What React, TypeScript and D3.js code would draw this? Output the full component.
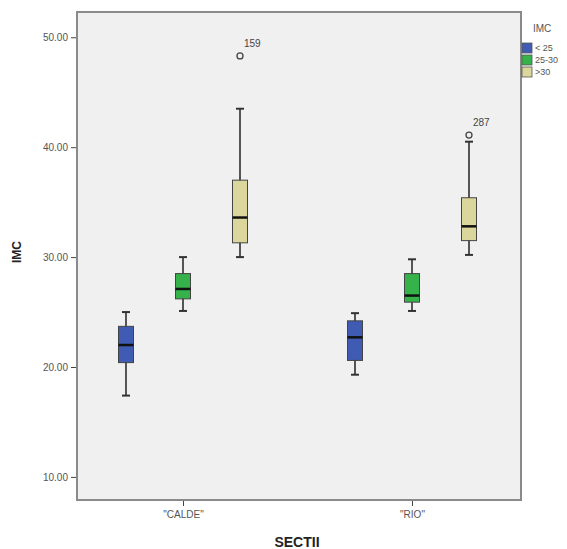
import React, { useEffect, useRef } from 'react'
import * as d3 from 'd3'

const categories = ['"CALDE"', '"RIO"']
const groups = ['< 25', '25-30', '>30']
const colors = ['#3f5bb4', '#36b24a', '#dad69c']
const yTicks = [10, 20, 30, 40, 50]

// [whiskerLow, q1, median, q3, whiskerHigh] per category, per group
const lowBmi = [[17.4, 20.4, 22.0, 23.7, 25.0], [19.3, 20.6, 22.7, 24.2, 24.9]]
const midBmi = [[25.1, 26.2, 27.1, 28.5, 30.0], [25.1, 25.9, 26.5, 28.5, 29.8]]
const highBmi = [[30.0, 31.3, 33.6, 37.0, 43.5], [30.2, 31.5, 32.8, 35.4, 40.5]]
const outliers = [
    { cat: 0, group: 2, value: 48.3, label: '159' },
    { cat: 1, group: 2, value: 41.1, label: '287' },
]

export default function App() {
    const svgRef = useRef()

    useEffect(() => {
        const width = 567
        const height = 549
        const left = 77
        const right = 521
        const top = 12
        const bottom = 500
        const font = 'Liberation Sans, Arial, sans-serif'

        const svg = d3.select(svgRef.current)
        svg.selectAll('*').remove()
        svg.attr('width', width).attr('height', height)

        const y = d3.scaleLinear().domain([7.9, 52.3]).range([bottom, top])
        const x = d3.scalePoint().domain(categories).range([183, 412])
        const offset = d3.scalePoint().domain(groups).range([-57, 57])

        svg.append('rect')
            .attr('x', left)
            .attr('y', top)
            .attr('width', right - left)
            .attr('height', bottom - top)
            .attr('fill', '#f0f0f0')
            .attr('stroke', '#8a8a8a')
            .attr('stroke-width', 2)

        const yAxis = svg.append('g')
            .attr('transform', `translate(${left - 1},0)`)
            .call(d3.axisLeft(y).tickValues(yTicks).tickSize(5).tickPadding(3).tickFormat(d3.format('.2f')))
        yAxis.select('.domain').remove()

        const xAxis = svg.append('g')
            .attr('transform', `translate(0,${bottom + 1})`)
            .call(d3.axisBottom(x).tickSize(5).tickPadding(5))
        xAxis.select('.domain').remove()

        svg.selectAll('.tick line').attr('stroke', '#444')
        svg.selectAll('.tick text')
            .attr('fill', '#555')
            .style('font-family', font)
            .style('font-size', '10px')

        const series = [lowBmi, midBmi, highBmi]
        const boxW = 15
        const capW = 8

        series.forEach((data, gi) => {
            data.forEach((s, ci) => {
                const cx = x(categories[ci]) + offset(groups[gi])
                const g = svg.append('g')
                g.append('line')
                    .attr('x1', cx).attr('x2', cx)
                    .attr('y1', y(s[0])).attr('y2', y(s[4]))
                    .attr('stroke', '#555').attr('stroke-width', 2)
                ;[s[0], s[4]].forEach((v) => {
                    g.append('line')
                        .attr('x1', cx - capW / 2).attr('x2', cx + capW / 2)
                        .attr('y1', y(v)).attr('y2', y(v))
                        .attr('stroke', '#333').attr('stroke-width', 2)
                })
                g.append('rect')
                    .attr('x', cx - boxW / 2)
                    .attr('y', y(s[3]))
                    .attr('width', boxW)
                    .attr('height', y(s[1]) - y(s[3]))
                    .attr('fill', colors[gi])
                    .attr('stroke', '#444')
                    .attr('stroke-width', 1)
                g.append('line')
                    .attr('x1', cx - boxW / 2).attr('x2', cx + boxW / 2)
                    .attr('y1', y(s[2])).attr('y2', y(s[2]))
                    .attr('stroke', '#111').attr('stroke-width', 2.5)
            })
        })

        outliers.forEach((o) => {
            const cx = x(categories[o.cat]) + offset(groups[o.group])
            svg.append('circle')
                .attr('cx', cx).attr('cy', y(o.value)).attr('r', 3)
                .attr('fill', 'none').attr('stroke', '#444').attr('stroke-width', 1.3)
            svg.append('text')
                .attr('x', cx + 4).attr('y', y(o.value) - 9)
                .attr('fill', '#444')
                .style('font-family', font)
                .style('font-size', '10px')
                .text(o.label)
        })

        svg.append('text')
            .attr('transform', `translate(21,252) rotate(-90)`)
            .attr('text-anchor', 'middle')
            .attr('fill', '#222')
            .style('font-family', font)
            .style('font-size', '12px')
            .style('font-weight', 'bold')
            .text('IMC')

        svg.append('text')
            .attr('x', 297).attr('y', 547)
            .attr('text-anchor', 'middle')
            .attr('fill', '#222')
            .style('font-family', font)
            .style('font-size', '14px')
            .style('font-weight', 'bold')
            .text('SECTII')

        const legend = svg.append('g')
        legend.append('text')
            .attr('x', 533).attr('y', 32)
            .attr('fill', '#555')
            .style('font-family', font)
            .style('font-size', '10px')
            .text('IMC')
        groups.forEach((name, i) => {
            legend.append('rect')
                .attr('x', 522).attr('y', 43 + i * 12)
                .attr('width', 10).attr('height', 10)
                .attr('fill', colors[i]).attr('stroke', '#555').attr('stroke-width', 0.8)
            legend.append('text')
                .attr('x', 535).attr('y', 51 + i * 12)
                .attr('fill', '#555')
                .style('font-family', font)
                .style('font-size', '9px')
                .text(name)
        })
    }, [])

    return (
        <div style={{ position: 'absolute', left: 0, top: 0 }}>
            <svg ref={svgRef} />
        </div>
    )
}
